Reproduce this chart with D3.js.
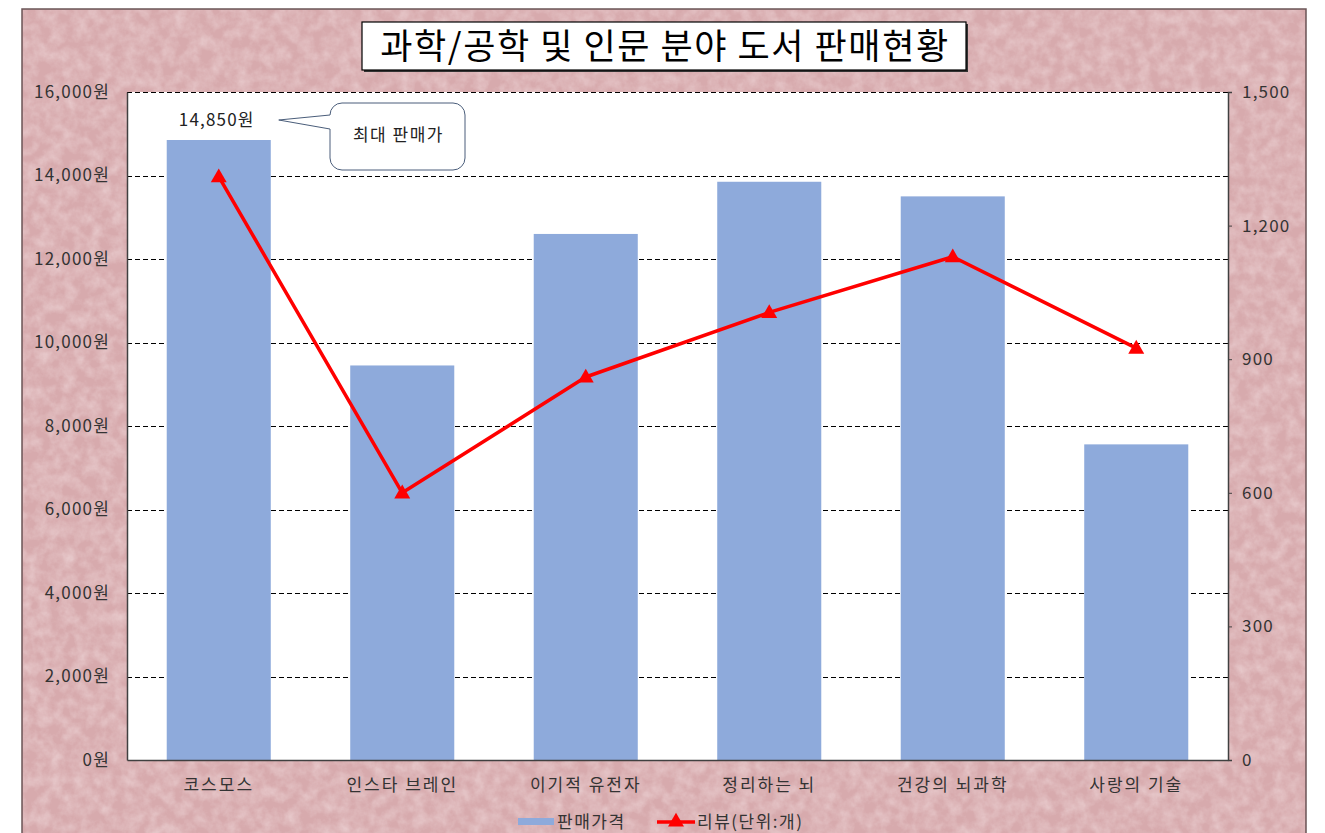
<!DOCTYPE html>
<html>
<head>
<meta charset="utf-8">
<script src="https://cdn.jsdelivr.net/npm/d3@7"></script>
<style>
  body { margin: 0; background: #fff; }
  text { font-family: "Noto Sans CJK KR", "Noto Sans", sans-serif; }
</style>
</head>
<body>
<div id="chart"></div>
<script>
// data
const titleText = "과학/공학 및 인문 분야 도서 판매현황";
const books = ["코스모스", "인스타 브레인", "이기적 유전자", "정리하는 뇌", "건강의 뇌과학", "사랑의 기술"];
const prices = [14850, 9450, 12600, 13850, 13500, 7560];
const reviews = [1310, 600, 860, 1005, 1130, 925];
const leftTicks = [0, 2000, 4000, 6000, 8000, 10000, 12000, 14000, 16000];
const rightTicks = [0, 300, 600, 900, 1200, 1500];
const seriesNames = ["판매가격", "리뷰(단위:개)"];
const calloutText = "최대 판매가";

const W = 1325, H = 833;
const margin = {top: 92, right: 97, bottom: 73, left: 127};
const width = W - margin.left - margin.right;
const height = H - margin.top - margin.bottom;

const svg = d3.select("#chart").append("svg")
    .attr("width", W)
    .attr("height", H);

// pink paper background
const defs = svg.append("defs");
const filt = defs.append("filter").attr("id", "paper")
    .attr("x", 0).attr("y", 0).attr("width", "100%").attr("height", "100%");
filt.append("feTurbulence")
    .attr("type", "fractalNoise")
    .attr("baseFrequency", 0.08)
    .attr("numOctaves", 4)
    .attr("seed", 3)
    .attr("result", "noise");
filt.append("feColorMatrix")
    .attr("in", "noise")
    .attr("type", "matrix")
    .attr("values", "0 0 0 0 0.93  0 0 0 0 0.80  0 0 0 0 0.81  0 0 0 0.8 -0.25")
    .attr("result", "tint");
filt.append("feComposite").attr("in", "tint").attr("in2", "SourceGraphic").attr("operator", "in");

svg.append("rect")
    .attr("x", 22).attr("y", 9)
    .attr("width", 1284).attr("height", H)
    .attr("fill", "#d7aaad")
    .attr("stroke", "#6b5557")
    .attr("stroke-width", 1.5);
svg.append("rect")
    .attr("x", 23).attr("y", 10)
    .attr("width", 1282).attr("height", H)
    .attr("fill", "#fff")
    .attr("filter", "url(#paper)");

// title box
const title = svg.append("g");
title.append("rect")
    .attr("x", 364).attr("y", 24)
    .attr("width", 604).attr("height", 48)
    .attr("fill", "#333");
title.append("rect")
    .attr("x", 362).attr("y", 22)
    .attr("width", 604).attr("height", 48)
    .attr("fill", "#fff")
    .attr("stroke", "#000")
    .attr("stroke-width", 1.2);
title.append("text")
    .attr("x", 665).attr("y", 59)
    .attr("text-anchor", "middle")
    .attr("font-size", 35)
    .attr("letter-spacing", 1.6)
    .attr("fill", "#000")
    .text(titleText);

const g = svg.append("g")
    .attr("transform", "translate(" + margin.left + "," + margin.top + ")");

// scales
const x = d3.scaleBand().domain(books).range([0, width]).paddingInner(0.433).paddingOuter(0.2165);
const y = d3.scaleLinear().domain([0, 16000]).range([height, 0]);
const y2 = d3.scaleLinear().domain([0, 1500]).range([height, 0]);

// plot area
g.append("rect")
    .attr("width", width).attr("height", height)
    .attr("fill", "#fff");

// gridlines
g.append("g")
    .selectAll("line")
    .data(leftTicks.filter(d => d > 0))
    .join("line")
    .attr("x1", 0).attr("x2", width)
    .attr("y1", d => Math.round(y(d)) + 0.5)
    .attr("y2", d => Math.round(y(d)) + 0.5)
    .attr("stroke", "#000")
    .attr("stroke-dasharray", "5,3");

// bars
g.append("g")
    .selectAll("rect")
    .data(books)
    .join("rect")
    .attr("x", d => x(d))
    .attr("width", x.bandwidth())
    .attr("y", (d, i) => y(prices[i]))
    .attr("height", (d, i) => height - y(prices[i]))
    .attr("fill", "#8eaadb");

// axes
const fmt = d3.format(",");
const leftAxis = g.append("g")
    .call(d3.axisLeft(y).tickValues(leftTicks).tickSize(0).tickFormat(d => fmt(d) + "원"));
const rightAxis = g.append("g")
    .attr("transform", "translate(" + width + ",0)")
    .call(d3.axisRight(y2).tickValues(rightTicks).tickSize(4).tickFormat(fmt));
const bottomAxis = g.append("g")
    .attr("transform", "translate(0," + height + ")")
    .call(d3.axisBottom(x).tickSize(0));

[leftAxis, rightAxis, bottomAxis].forEach(a => {
    a.select(".domain").attr("stroke", "#404040").attr("stroke-width", 1.5);
    a.selectAll(".tick line").attr("stroke", "#404040");
    a.selectAll("text").attr("fill", "#333").attr("font-size", 17)
        .attr("letter-spacing", 1.2)
        .style("font-family", "'Noto Sans CJK KR', sans-serif");
});
leftAxis.selectAll("text").attr("x", -17);
rightAxis.selectAll("text").attr("x", 14);
bottomAxis.selectAll("text").attr("dy", 0).attr("y", 31).attr("letter-spacing", 2);

// review line
const line = d3.line()
    .x((d, i) => x(books[i]) + x.bandwidth() / 2)
    .y(d => y2(d));

g.append("path")
    .datum(reviews)
    .attr("d", line)
    .attr("fill", "none")
    .attr("stroke", "#ff0000")
    .attr("stroke-width", 3.5)
    .attr("stroke-linejoin", "round");

const tri = d3.symbol().type(d3.symbolTriangle).size(110);
g.append("g")
    .selectAll("path")
    .data(reviews)
    .join("path")
    .attr("d", tri)
    .attr("transform", (d, i) => "translate(" + (x(books[i]) + x.bandwidth() / 2) + "," + (y2(d) + 1) + ")")
    .attr("fill", "#ff0000");

// data label on max bar
const maxI = d3.maxIndex(prices);
const lx = x(books[maxI]) + x.bandwidth() / 2;
const ly = y(prices[maxI]);
g.append("text")
    .attr("x", lx - 2).attr("y", ly - 14)
    .attr("text-anchor", "middle")
    .attr("font-size", 17)
    .attr("letter-spacing", 1.2)
    .attr("fill", "#222")
    .text(fmt(prices[maxI]) + "원");

// callout bubble
const bx = 330 - margin.left, by = 103 - margin.top, bw = 135, bh = 67, r = 12;
const tipX = lx + 60, tipY = ly - 20;
const bubble = d3.path();
bubble.moveTo(bx + r, by);
bubble.lineTo(bx + bw - r, by);
bubble.arcTo(bx + bw, by, bx + bw, by + r, r);
bubble.lineTo(bx + bw, by + bh - r);
bubble.arcTo(bx + bw, by + bh, bx + bw - r, by + bh, r);
bubble.lineTo(bx + r, by + bh);
bubble.arcTo(bx, by + bh, bx, by + bh - r, r);
bubble.lineTo(bx, by + 26);
bubble.lineTo(tipX, tipY);
bubble.lineTo(bx, by + 12);
bubble.lineTo(bx, by + r);
bubble.arcTo(bx, by, bx + r, by, r);
bubble.closePath();
g.append("path")
    .attr("d", bubble.toString())
    .attr("fill", "#fff")
    .attr("stroke", "#4a5d7a")
    .attr("stroke-width", 1);
g.append("text")
    .attr("x", bx + bw / 2 + 1).attr("y", by + 38)
    .attr("text-anchor", "middle")
    .attr("font-size", 17)
    .attr("letter-spacing", 1.5)
    .attr("fill", "#222")
    .text(calloutText);

// legend
const legend = svg.append("g").attr("transform", "translate(518,822)");
legend.append("rect")
    .attr("x", 0).attr("y", -4)
    .attr("width", 36).attr("height", 7)
    .attr("fill", "#8eaadb");
legend.append("text")
    .attr("x", 39).attr("y", 6)
    .attr("font-size", 17).attr("letter-spacing", 1.5).attr("fill", "#333")
    .text(seriesNames[0]);
legend.append("line")
    .attr("x1", 139).attr("x2", 177)
    .attr("y1", 0).attr("y2", 0)
    .attr("stroke", "#ff0000").attr("stroke-width", 3.5);
legend.append("path")
    .attr("d", tri)
    .attr("transform", "translate(158,0)")
    .attr("fill", "#ff0000");
legend.append("text")
    .attr("x", 179).attr("y", 6)
    .attr("font-size", 17).attr("letter-spacing", 1.5).attr("fill", "#333")
    .text(seriesNames[1]);
</script>
</body>
</html>
